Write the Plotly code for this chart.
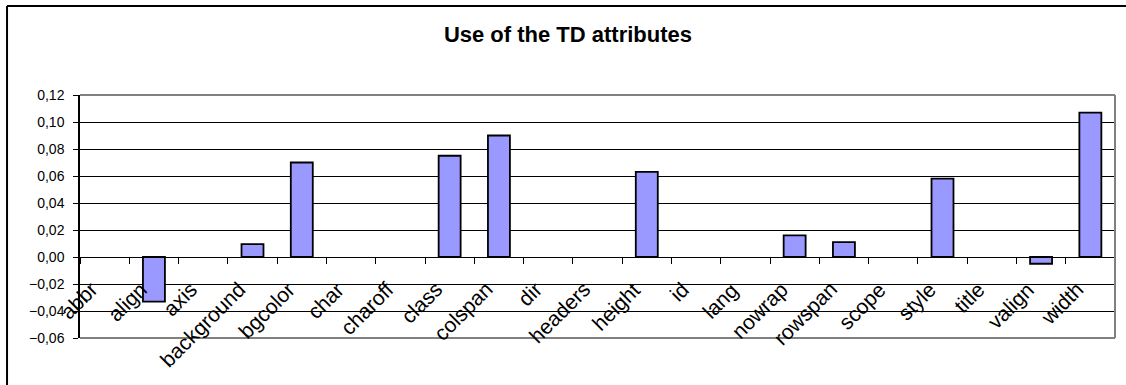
import plotly.graph_objects as go

# Share of pages using each TD attribute (None = attribute not used)
attributes = ["abbr", "align", "axis", "background", "bgcolor", "char", "charoff",
              "class", "colspan", "dir", "headers", "height", "id", "lang", "nowrap",
              "rowspan", "scope", "style", "title", "valign", "width"]
usage = [None, -0.033, None, 0.0096, 0.070, None, None,
         0.075, 0.090, None, None, 0.063, None, None, 0.016,
         0.011, None, 0.058, None, -0.005, 0.107]
y_ticks = [-0.06, -0.04, -0.02, 0.0, 0.02, 0.04, 0.06, 0.08, 0.10, 0.12]

Y_MIN, Y_MAX = -0.06, 0.12
FONT = "Liberation Sans, Arial, sans-serif"

fig = go.Figure()
fig.add_trace(go.Bar(
    x=attributes, y=usage,
    marker=dict(color="#9999FF", line=dict(color="black", width=1.8)),
    hoverinfo="x+y",
))

# category labels hang just under the zero line, slanted at 45 degrees
for name in attributes:
    fig.add_annotation(
        x=name, y=0, xref="x", yref="y",
        text=name, showarrow=False, textangle=-45,
        xanchor="right", yanchor="top", xshift=0, yshift=-18,
        font=dict(family=FONT, size=21, color="black"),
    )

# plot area frame (top, right, bottom)
frame = dict(color="#808080", width=2)
fig.add_shape(type="line", xref="paper", yref="paper", x0=0, x1=1, y0=1, y1=1, line=frame, layer="above")
fig.add_shape(type="line", xref="paper", yref="paper", x0=1, x1=1, y0=0, y1=1, line=frame, layer="above")
fig.add_shape(type="line", xref="paper", yref="paper", x0=0, x1=1, y0=0, y1=0, line=frame, layer="above")

# outer chart border (left and top edges)
border = dict(color="black", width=2)
fig.add_shape(type="line", xref="paper", yref="paper", x0=-0.0705, x1=-0.0705, y0=-0.25, y1=1.366, line=border)
fig.add_shape(type="line", xref="paper", yref="paper", x0=-0.0705, x1=1.02, y0=1.366, y1=1.366, line=border)

fig.update_layout(
    width=1126, height=385,
    margin=dict(l=80, r=11, t=95, b=47),
    paper_bgcolor="white", plot_bgcolor="white",
    separators=", ",
    showlegend=False,
    bargap=0.554,
    title=dict(text="<b>Use of the TD attributes</b>", x=0.5044, xanchor="center",
               y=0.9117, yanchor="middle",
               font=dict(family=FONT, size=22, color="black")),
    font=dict(family=FONT, size=14, color="black"),
    xaxis=dict(
        type="category", anchor="free", position=(0 - Y_MIN) / (Y_MAX - Y_MIN),
        showline=True, linecolor="black", linewidth=1,
        ticks="outside", tickson="boundaries", ticklen=6, tickcolor="black",
        showticklabels=False, showgrid=False, zeroline=False,
        range=[-0.5, len(attributes) - 0.5],
    ),
    yaxis=dict(
        range=[Y_MIN, Y_MAX], tickvals=y_ticks, tickformat=".2f",
        showline=True, linecolor="black", linewidth=1.5,
        ticks="outside", ticklen=5, tickcolor="black", ticklabelstandoff=6,
        showgrid=True, gridcolor="black", gridwidth=1,
        zeroline=False, tickfont=dict(family=FONT, size=14),
    ),
)

fig.write_html("out.html")
